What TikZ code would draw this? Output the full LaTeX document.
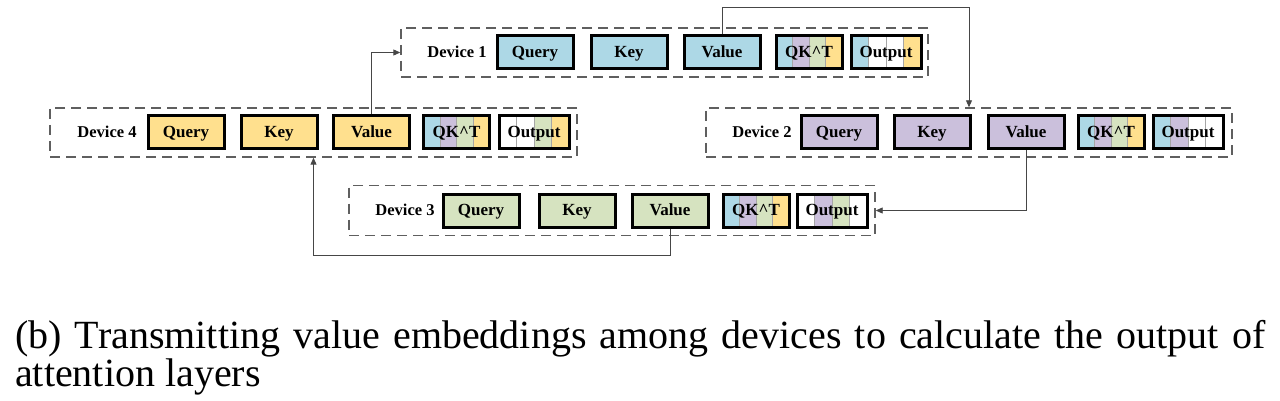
\documentclass[tikz,border=0pt]{standalone}
\usepackage{fontspec}
\setmainfont{Liberation Serif}
\usetikzlibrary{calc,arrows.meta}
\definecolor{cblue}{RGB}{173,216,230}
\definecolor{cpurp}{RGB}{203,192,220}
\definecolor{cgreen}{RGB}{214,227,192}
\definecolor{cyel}{RGB}{255,224,142}
\definecolor{dashgray}{RGB}{95,95,95}
\definecolor{conngray}{RGB}{70,70,70}
\tikzset{
  frame/.style={draw=dashgray, line width=1.4pt, dash pattern=on 10pt off 6pt, minimum height=49pt, inner sep=0pt},
  devlabel/.style={font=\bfseries\fontsize{16.5}{16.5}\selectfont, inner sep=0pt, text height=11pt, text depth=0.5pt},
  cellbox/.style={draw=black, line width=3pt, minimum width=76pt, minimum height=33pt, inner sep=0pt, text height=11pt, text depth=0.5pt, font=\bfseries\fontsize{17}{17}\selectfont},
  smallbox/.style={cellbox, minimum width=66pt},
  stripes/.style n args={4}{path picture={
    \coordinate (ppsw) at (path picture bounding box.south west);
    \coordinate (ppnw) at (path picture bounding box.north west);
    \coordinate (ppne) at (path picture bounding box.north east);
    \coordinate (ppse) at (path picture bounding box.south east);
    \fill[#1] (ppsw) rectangle ($(ppnw)!0.25!(ppne)$);
    \fill[#2] ($(ppsw)!0.25!(ppse)$) rectangle ($(ppnw)!0.5!(ppne)$);
    \fill[#3] ($(ppsw)!0.5!(ppse)$) rectangle ($(ppnw)!0.75!(ppne)$);
    \fill[#4] ($(ppsw)!0.75!(ppse)$) rectangle (ppne);
    \foreach \f in {0.25,0.5,0.75} {\draw[gray!70, line width=0.6pt] ($(ppsw)!\f!(ppse)$) -- ($(ppnw)!\f!(ppne)$);}
  }},
  conn/.style={draw=conngray, line width=0.9pt, -{Triangle[length=7pt,width=6pt]}},
  caption/.style={font=\fontsize{40}{36}\selectfont, align=justify, text width=1250pt, inner sep=0pt, anchor=north west}
}
\begin{document}
\begin{tikzpicture}[x=1pt,y=-1pt]
\useasboundingbox (0,0) rectangle (1280,401);
% Device 1
\node[frame, minimum width=527pt] (d1) at (664.5,52.5) {};
\node[devlabel] (d1l) at (457,52.5) {Device 1};
\node[cellbox, fill=cblue] (d1q) at (535,52.5) {Query};
\node[cellbox, fill=cblue] (d1k) at (629,52.5) {Key};
\node[cellbox, fill=cblue] (d1v) at (722,52.5) {Value};
\node[smallbox, stripes={cblue}{cpurp}{cgreen}{cyel}] (d1s) at (809,52.5) {QK\^{}T};
\node[smallbox, minimum width=70pt, stripes={cblue}{white}{white}{cyel}] (d1o) at (886,52.5) {Output};
% Device 4
\node[frame, minimum width=527pt] (d4) at (313.5,132.5) {};
\node[devlabel] (d4l) at (107,132.5) {Device 4};
\node[cellbox, fill=cyel] (d4q) at (186,132.5) {Query};
\node[cellbox, fill=cyel] (d4k) at (279,132.5) {Key};
\node[cellbox, fill=cyel] (d4v) at (371.5,132.5) {Value};
\node[smallbox, stripes={cblue}{cpurp}{cgreen}{cyel}] (d4s) at (456.5,132.5) {QK\^{}T};
\node[smallbox, minimum width=70pt, stripes={white}{white}{cgreen}{cyel}] (d4o) at (534,132.5) {Output};
% Device 2
\node[frame, minimum width=526pt] (d2) at (969,132.5) {};
\node[devlabel] (d2l) at (762,132.5) {Device 2};
\node[cellbox, fill=cpurp] (d2q) at (839,132.5) {Query};
\node[cellbox, fill=cpurp] (d2k) at (932,132.5) {Key};
\node[cellbox, fill=cpurp] (d2v) at (1026,132.5) {Value};
\node[smallbox, stripes={cblue}{cpurp}{cgreen}{cyel}] (d2s) at (1111,132.5) {QK\^{}T};
\node[smallbox, minimum width=70pt, stripes={cblue}{cpurp}{white}{white}] (d2o) at (1188,132.5) {Output};
% Device 3
\node[frame, minimum width=526pt, minimum height=50pt] (d3) at (612,210.5) {};
\node[devlabel] (d3l) at (405,210.5) {Device 3};
\node[cellbox, fill=cgreen] (d3q) at (481,210.5) {Query};
\node[cellbox, fill=cgreen] (d3k) at (577,210.5) {Key};
\node[cellbox, fill=cgreen] (d3v) at (670,210.5) {Value};
\node[smallbox, stripes={cblue}{cpurp}{cgreen}{cyel}] (d3s) at (756,210.5) {QK\^{}T};
\node[smallbox, minimum width=70pt, stripes={white}{cpurp}{cgreen}{white}] (d3o) at (832,210.5) {Output};
% connectors
\coordinate (t1) at (969,7);
\coordinate (t3) at (313.5,255);
\draw[conn] (d1v.north) |- (t1) -- (d2.north);
\draw[conn] (d4v.north) |- (d1.west);
\draw[conn] (d2v.south) |- (d3.east);
\draw[conn] (d3v.south) |- (t3) -- (d4.south);
% caption
\node[caption] (cap) at (15,320.5) {(b) Transmitting value embeddings among devices to calculate the output of attention layers};
\end{tikzpicture}
\end{document}
